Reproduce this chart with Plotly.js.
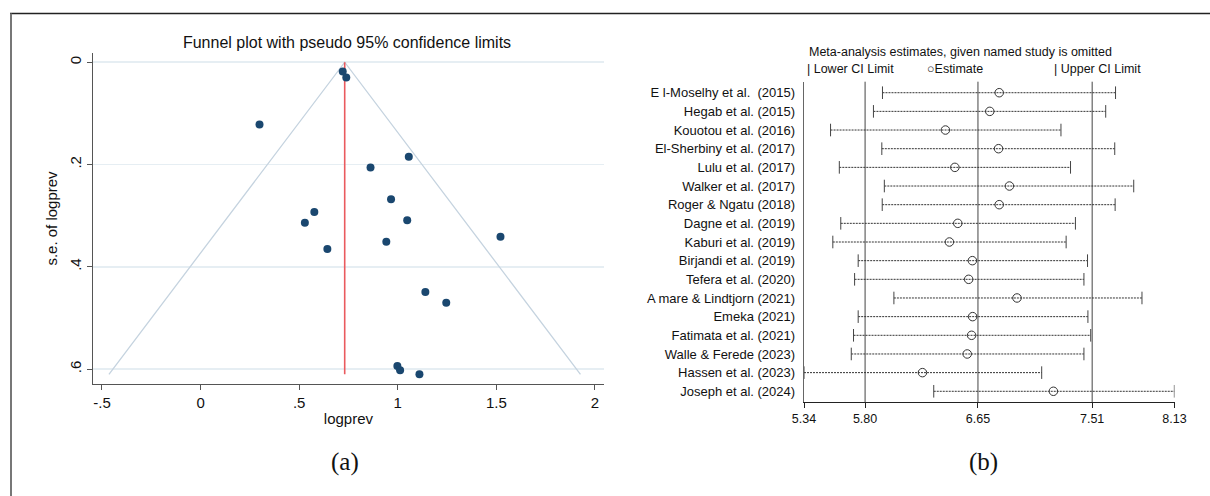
<!DOCTYPE html>
<html>
<head>
<meta charset="utf-8">
<script src="https://cdn.plot.ly/plotly-3.0.1.min.js"></script>
<style>html,body{margin:0;padding:0;background:#fff;}#chart{width:1210px;height:496px;}</style>
</head>
<body>
<div id="chart"></div>
<script>
// ---- Panel (a): funnel plot data ----
const funnelLogprev = [0.721, 0.739, 0.299, 1.056, 0.862, 0.966, 0.577, 0.529, 1.048, 1.521, 0.942, 0.643, 1.140, 1.246, 0.998, 1.012, 1.110];
const funnelSE      = [0.018, 0.030, 0.122, 0.185, 0.206, 0.268, 0.293, 0.314, 0.309, 0.341, 0.351, 0.365, 0.449, 0.470, 0.594, 0.602, 0.610];
const pooledLogprev = 0.731;
const maxSE = 0.61;
const zCrit = 1.96;
const funnelXTicks = [-0.5, 0, 0.5, 1, 1.5, 2];
const funnelXTickText = ['-.5', '0', '.5', '1', '1.5', '2'];
const funnelYTicks = [0, 0.2, 0.4, 0.6];
const funnelYTickText = ['0', '.2', '.4', '.6'];

// ---- Panel (b): leave-one-out sensitivity data ----
const studies = [
  'E l-Moselhy et al.  (2015)', 'Hegab et al. (2015)', 'Kouotou et al. (2016)', 'El-Sherbiny et al. (2017)',
  'Lulu et al. (2017)', 'Walker et al. (2017)', 'Roger & Ngatu (2018)', 'Dagne et al. (2019)',
  'Kaburi et al. (2019)', 'Birjandi et al. (2019)', 'Tefera et al. (2020)', 'A mare & Lindtjorn (2021)',
  'Emeka (2021)', 'Fatimata et al. (2021)', 'Walle & Ferede (2023)', 'Hassen et al. (2023)', 'Joseph et al. (2024)'
];
const estimates = [6.810, 6.739, 6.405, 6.805, 6.476, 6.887, 6.810, 6.498, 6.435, 6.608, 6.580, 6.944, 6.610, 6.602, 6.569, 6.232, 7.218];
const lowerCI   = [5.931, 5.863, 5.540, 5.926, 5.606, 5.945, 5.929, 5.617, 5.557, 5.748, 5.721, 6.017, 5.748, 5.713, 5.696, 5.340, 6.317];
const upperCI   = [7.686, 7.612, 7.275, 7.680, 7.347, 7.823, 7.683, 7.384, 7.314, 7.475, 7.448, 7.885, 7.478, 7.499, 7.448, 7.130, 8.129];
const sensTicks = [5.34, 5.80, 6.65, 7.51, 8.13];
const sensTickText = ['5.34', '5.80', '6.65', '7.51', '8.13'];
const refLines = [5.80, 6.65, 7.51];

// ---- build traces ----
const W = 1210, H = 496;
const px = v => v / W;
const py = v => 1 - v / H;

const funnelLines = {
  x: [pooledLogprev - zCrit * maxSE, pooledLogprev, pooledLogprev + zCrit * maxSE],
  y: [maxSE, 0, maxSE],
  mode: 'lines', type: 'scatter', xaxis: 'x', yaxis: 'y',
  line: {color: '#c5d3df', width: 1.3}, hoverinfo: 'skip', showlegend: false
};
const pooledLine = {
  x: [pooledLogprev, pooledLogprev], y: [0, maxSE],
  mode: 'lines', type: 'scatter', xaxis: 'x', yaxis: 'y',
  line: {color: '#ea5a5e', width: 1.6}, showlegend: false
};
const funnelPoints = {
  x: funnelLogprev, y: funnelSE, mode: 'markers', type: 'scatter', xaxis: 'x', yaxis: 'y',
  marker: {color: '#1a476f', size: 8}, showlegend: false
};

// CI segments
const ciX = [], ciY = [];
studies.forEach((s, i) => { ciX.push(lowerCI[i], upperCI[i], null); ciY.push(s, s, null); });
const ciLines = {
  x: ciX, y: ciY, mode: 'lines', type: 'scatter', xaxis: 'x2', yaxis: 'y2',
  line: {color: '#333', width: 1, dash: '2px,1px'}, showlegend: false, connectgaps: false
};
const capX = [], capY = [];
studies.forEach((s, i) => { capX.push(lowerCI[i], upperCI[i]); capY.push(s, s); });
const caps = {
  x: capX, y: capY, mode: 'markers', type: 'scatter', xaxis: 'x2', yaxis: 'y2',
  marker: {symbol: 'line-ns-open', size: 9, color: '#444', line: {color: '#444', width: 1}}, showlegend: false
};
const estPoints = {
  x: estimates, y: studies, mode: 'markers', type: 'scatter', xaxis: 'x2', yaxis: 'y2',
  marker: {symbol: 'circle-open', size: 8.5, color: '#333', line: {color: '#333', width: 1}}, showlegend: false
};

const font = 'Liberation Sans, Arial, sans-serif';
const shapes = [
  // outer frame
  {type: 'line', xref: 'paper', yref: 'paper', x0: px(10), x1: 1, y0: py(13.5), y1: py(13.5), line: {color: '#222', width: 1.5}},
  {type: 'line', xref: 'paper', yref: 'paper', x0: px(11), x1: px(11), y0: py(13.5), y1: 0, line: {color: '#777', width: 2}}
];
refLines.forEach(v => shapes.push({
  type: 'line', xref: 'x2', yref: 'y2 domain', x0: v, x1: v, y0: 0, y1: 1,
  line: {color: '#444', width: 1}, layer: 'below'
}));

const layout = {
  width: W, height: H,
  margin: {l: 0, r: 0, t: 0, b: 0},
  paper_bgcolor: '#fff', plot_bgcolor: '#fff',
  font: {family: font, color: '#111', size: 12},
  showlegend: false,
  title: {text: 'Funnel plot with pseudo 95% confidence limits', x: px(347), xanchor: 'center', y: py(42), yanchor: 'middle',
          xref: 'paper', yref: 'paper', font: {family: font, size: 16, color: '#111'}},
  xaxis: {
    domain: [px(92.9), px(604)], range: [-0.546, 2.046], anchor: 'y',
    tickvals: funnelXTicks, ticktext: funnelXTickText, ticks: 'outside', ticklen: 5, tickcolor: '#555',
    showline: true, linecolor: '#555', linewidth: 1.3, showgrid: false, zeroline: false,
    tickfont: {size: 15, color: '#111'},
    title: {text: 'logprev', font: {size: 15, color: '#111'}, standoff: 3}
  },
  yaxis: {
    domain: [py(384), py(53)], range: [0.629, -0.018], anchor: 'x',
    tickvals: funnelYTicks, ticktext: funnelYTickText, ticks: 'outside', ticklen: 5, tickcolor: '#555',
    tickangle: -90, showline: true, linecolor: '#555', linewidth: 1.3,
    showgrid: true, gridcolor: '#e6eef3', gridwidth: 1.5, zeroline: false,
    tickfont: {size: 15, color: '#111'},
    title: {text: 's.e. of logprev', font: {size: 15, color: '#111'}, standoff: 5}
  },
  xaxis2: {
    domain: [px(804), px(1174.5)], range: [5.34, 8.13], anchor: 'y2',
    tickvals: sensTicks, ticktext: sensTickText, ticks: 'outside', ticklen: 5, tickcolor: '#222',
    showline: true, linecolor: '#222', linewidth: 1, showgrid: false, zeroline: false,
    tickfont: {size: 12.5, color: '#111'}
  },
  yaxis2: {
    domain: [py(402.3), py(81.7)], range: [16.59, -0.59], anchor: 'x2', type: 'category',
    categoryorder: 'array', categoryarray: studies,
    ticks: '', showline: true, linecolor: '#666', linewidth: 1.3, showgrid: false, zeroline: false,
    tickfont: {size: 13, color: '#111'}, ticklabelstandoff: 5
  },
  shapes: shapes,
  annotations: [
    {text: 'Meta-analysis estimates, given named study is omitted', xref: 'paper', yref: 'paper', x: px(960), y: py(52),
     xanchor: 'center', yanchor: 'middle', showarrow: false, font: {size: 12.5, color: '#111'}},
    {text: '| Lower CI Limit', xref: 'paper', yref: 'paper', x: px(805), y: py(69), xanchor: 'left', yanchor: 'middle', showarrow: false, font: {size: 12.5, color: '#111'}},
    {text: '○Estimate', xref: 'paper', yref: 'paper', x: px(925), y: py(69), xanchor: 'left', yanchor: 'middle', showarrow: false, font: {size: 12.5, color: '#111'}},
    {text: '| Upper CI Limit', xref: 'paper', yref: 'paper', x: px(1052), y: py(69), xanchor: 'left', yanchor: 'middle', showarrow: false, font: {size: 12.5, color: '#111'}},
    {text: '(a)', xref: 'paper', yref: 'paper', x: px(345), y: py(461.7), xanchor: 'center', yanchor: 'middle', showarrow: false,
     font: {family: 'Liberation Serif, Times New Roman, serif', size: 25, color: '#111'}},
    {text: '(b)', xref: 'paper', yref: 'paper', x: px(983.6), y: py(461.7), xanchor: 'center', yanchor: 'middle', showarrow: false,
     font: {family: 'Liberation Serif, Times New Roman, serif', size: 25, color: '#111'}}
  ]
};

Plotly.newPlot('chart', [funnelLines, pooledLine, funnelPoints, ciLines, caps, estPoints], layout, {displayModeBar: false, staticPlot: true});
</script>
</body>
</html>
